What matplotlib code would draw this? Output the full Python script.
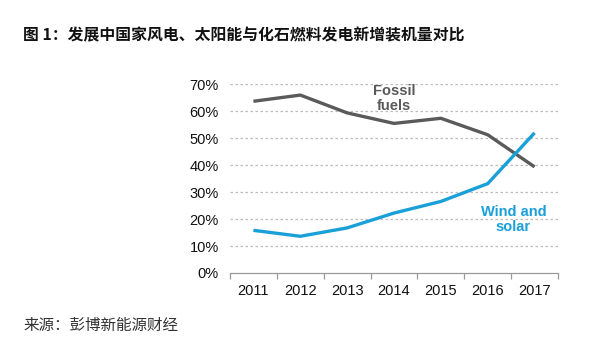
import matplotlib
matplotlib.use("Agg")
import matplotlib.pyplot as plt
from matplotlib.ticker import FixedLocator, FuncFormatter

years = ["2011", "2012", "2013", "2014", "2015", "2016", "2017"]
fossil = [63.6, 65.9, 59.3, 55.4, 57.3, 51.2, 39.3]
wind_solar = [15.8, 13.6, 16.7, 22.2, 26.5, 33.1, 51.9]
yticks = [0, 10, 20, 30, 40, 50, 60, 70]

title = "图 1：发展中国家风电、太阳能与化石燃料发电新增装机量对比"
source = "来源：彭博新能源财经"

plt.rcParams['font.family'] = ['Liberation Sans', 'Noto Sans CJK SC', 'DejaVu Sans']

fig = plt.figure(figsize=(6, 3.56), dpi=100)
ax = fig.add_axes([230/600, 1-273/356, (558-230)/600, (273-84)/356])

x = list(range(len(years)))
gray = "#5a5a5a"
blue = "#1aa0d8"
ax.plot(x, fossil, color=gray, lw=2.4, solid_capstyle='butt', zorder=3)
ax.plot(x, wind_solar, color=blue, lw=2.4, solid_capstyle='butt', zorder=3)

ax.set_xlim(-0.5, len(years)-0.5)
ax.set_ylim(0, 70)
ax.set_yticks(yticks)
ax.yaxis.set_major_formatter(FuncFormatter(lambda v, p: f"{int(v)}%"))
for y in yticks[1:]:
    ax.axhline(y, color="#bcbcbc", lw=0.9, ls=(0, (2, 2)), zorder=1)

ax.xaxis.set_major_locator(FixedLocator([i - 0.5 for i in range(len(years)+1)]))
ax.xaxis.set_major_formatter(FuncFormatter(lambda v, p: ""))
ax.xaxis.set_minor_locator(FixedLocator(x))
ax.set_xticklabels(years, minor=True)
ax.tick_params(axis='x', which='major', length=4, width=0.9, color="#999999", direction='out')
ax.tick_params(axis='x', which='minor', length=0, pad=8, labelsize=10.5, labelcolor="#111111")
ax.tick_params(axis='y', length=0, pad=8, labelsize=10.5, labelcolor="#111111")

for s in ['top', 'right', 'left']:
    ax.spines[s].set_visible(False)
ax.spines['bottom'].set_color("#999999")
ax.spines['bottom'].set_linewidth(0.9)

ax.text(3.0, 64.5, "Fossil\nfuels", color=gray, fontsize=10.5, fontweight='bold',
        ha='center', va='center', linespacing=1.1)
ax.text(5.55, 19.9, "Wind and\nsolar", color=blue, fontsize=10.5, fontweight='bold',
        ha='center', va='center', linespacing=1.1)

fig.text(23/600, 1-35/356, title, fontsize=11.4, fontweight='bold',
         family=['Noto Sans CJK SC', 'DejaVu Sans'], ha='left', va='center', color="#111111")
fig.text(23/600, 1-325/356, source, fontsize=11.2, style='italic',
         family=['Noto Sans CJK SC', 'DejaVu Sans'], ha='left', va='center', color="#333333")

fig.savefig("out.png", dpi=100, facecolor='white')
